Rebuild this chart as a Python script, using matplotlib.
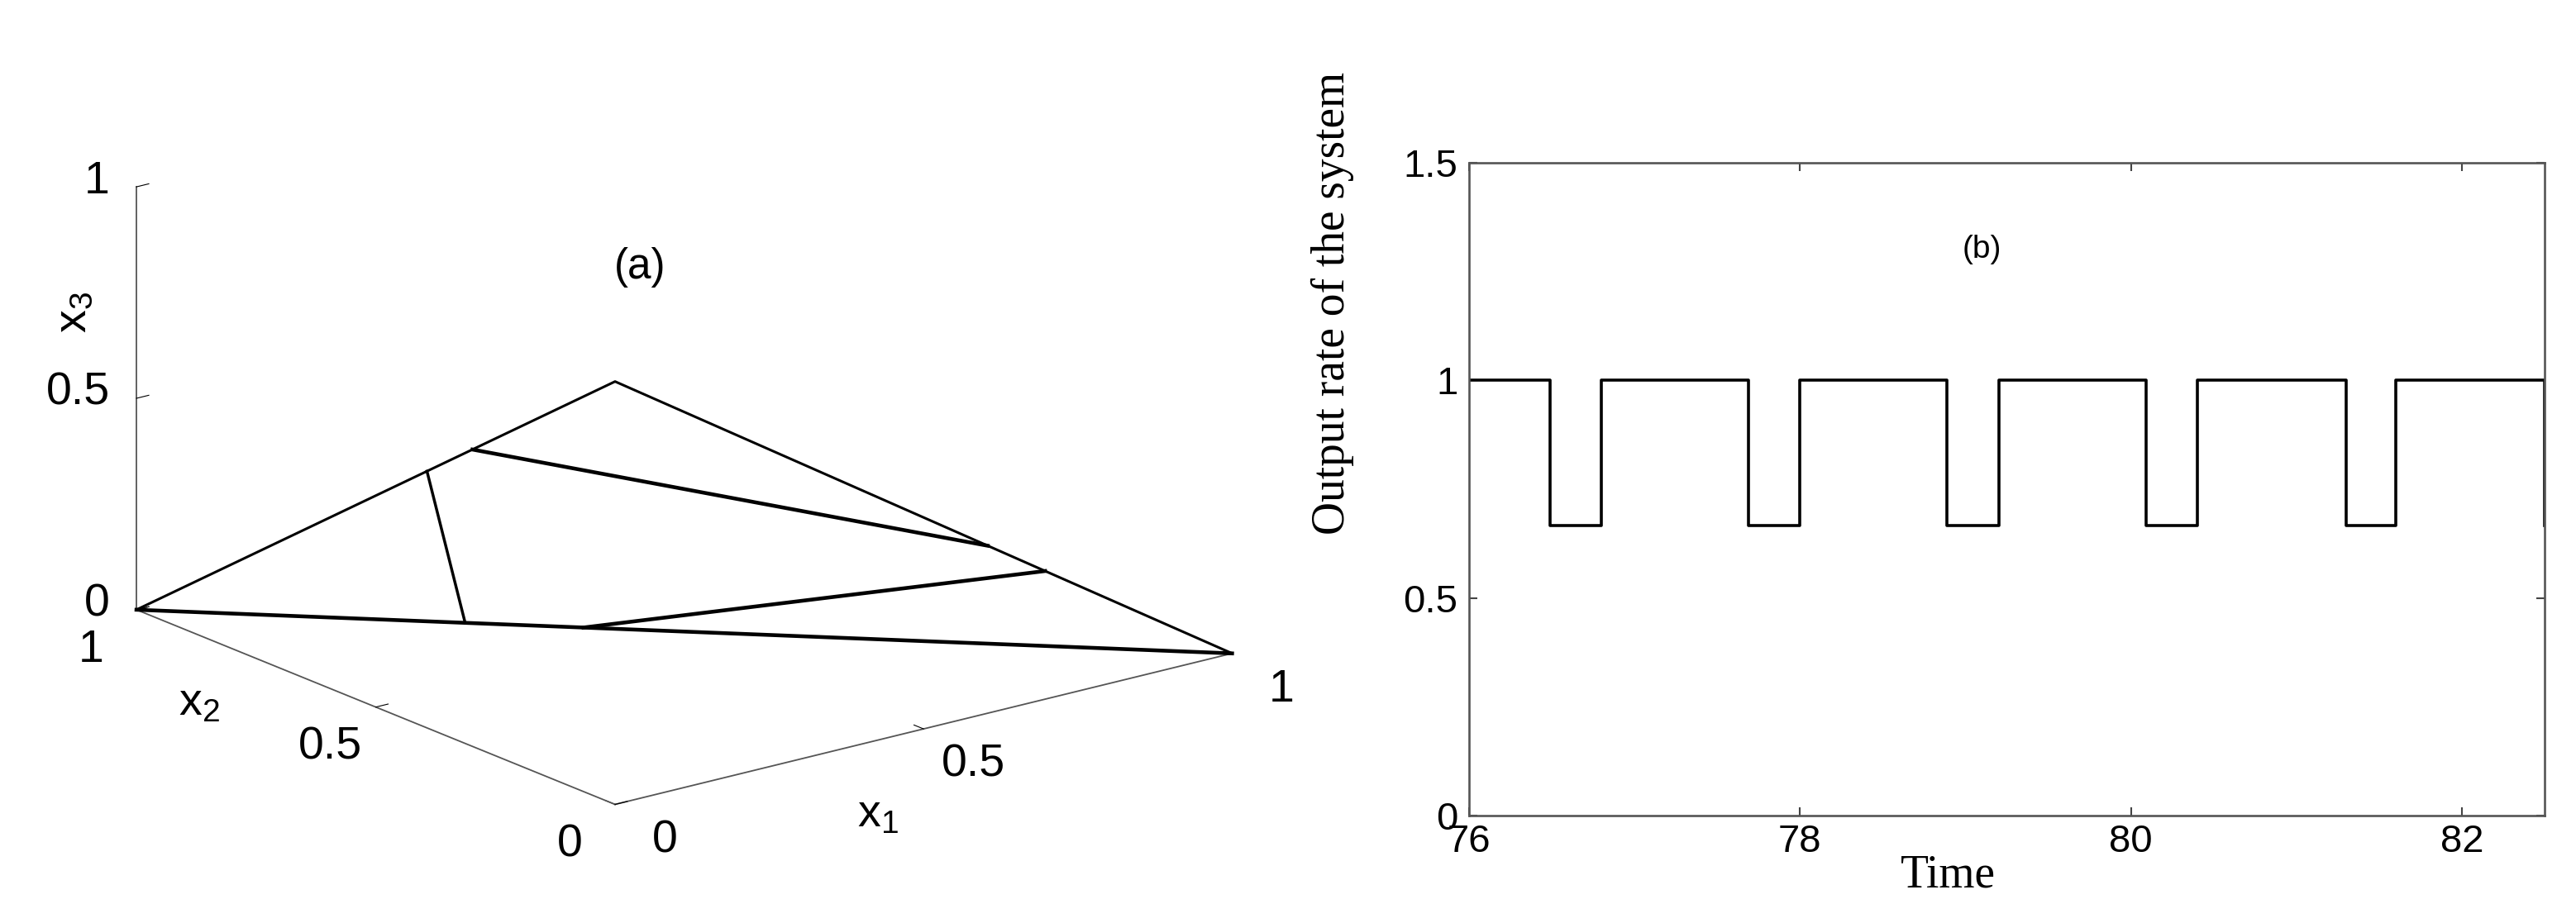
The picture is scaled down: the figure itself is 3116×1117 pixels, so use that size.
import matplotlib
matplotlib.use('Agg')
import matplotlib.pyplot as plt
from mpl_toolkits.mplot3d import proj3d

plt.rcParams['font.family'] = ['Liberation Sans', 'DejaVu Sans']

# ---- (b) output rate of the system ----
times = [76.0, 76.49, 76.80, 77.69, 78.00, 78.89, 79.20, 80.09, 80.40, 81.30, 81.60, 82.50]
rates = [1, 0.667, 1, 0.667, 1, 0.667, 1, 0.667, 1, 0.667, 1, 0.667]
time_ticks = [76, 78, 80, 82]
rate_ticks = [0, 0.5, 1, 1.5]
rate_labels = ['0', '0.5', '1', '1.5']

# ---- (a) simplex x1 + x2 + x3 = 1, points as (x1, x2, x3) ----
simplex_edge = [(1, 0, 0), (0, 0, 1), (0, 1, 0)]
bottom_edge = [(0, 1, 0), (1, 0, 0)]
traj_thin = [[(0.30, 0.70, 0.0), (0.0, 0.393, 0.607)]]
traj_thick = [
    [(0.0, 0.298, 0.702), (0.604, 0.0, 0.396)],
    [(0.408, 0.592, 0.0), (0.697, 0.0, 0.303)],
]
simplex_ticks = [0, 0.5, 1]
simplex_labels = ['0', '0.5', '1']

fig = plt.figure(figsize=(31.16, 11.17), dpi=100)

# left: 3d view of the simplex (matlab-like view)
ax3 = fig.add_axes([0.1010, 0.0856, 0.3206, 0.8943], projection='3d', proj_type='ortho')
ax3.view_init(elev=18.4, azim=-127.8)
ax3.set_box_aspect((1, 1, 0.571), zoom=1.4)
ax3.set_xlim(0, 1)
ax3.set_ylim(0, 1)
ax3.set_zlim(0, 1)
ax3.grid(False)

def unzip(pts):
    return [p[0] for p in pts], [p[1] for p in pts], [p[2] for p in pts]

x, y, z = unzip(simplex_edge)
ax3.plot(x, y, z, color='k', lw=2.2, clip_on=False)
x, y, z = unzip(bottom_edge)
ax3.plot(x, y, z, color='k', lw=3.3, clip_on=False)
for seg in traj_thin:
    x, y, z = unzip(seg)
    ax3.plot(x, y, z, color='k', lw=2.5, clip_on=False)
for seg in traj_thick:
    x, y, z = unzip(seg)
    ax3.plot(x, y, z, color='k', lw=3.3, clip_on=False)

for axis in (ax3.xaxis, ax3.yaxis, ax3.zaxis):
    axis.set_pane_color((1, 1, 1, 0))
    axis.pane.set_edgecolor((1, 1, 1, 0))
    axis.line.set_color('#555555')
    axis.line.set_linewidth(1.3)
    axis._axinfo['tick']['inward_factor'] = 0.0
    axis._axinfo['tick']['outward_factor'] = 0.25
    axis._axinfo['tick']['color'] = '#555555'
    axis.set_ticks(simplex_ticks)
    axis.set_tick_params(labelbottom=False)
    axis.label.set_visible(False)
    axis.offsetText.set_visible(False)

# texts: project the 3d anchor once and put a plain 2d text there
M = ax3.get_proj()

def label3d(px, py, pz, s, **kw):
    u, v, _ = proj3d.proj_transform(px, py, pz, M)
    ax3.text2D(u, v, s, transform=ax3.transData, **kw)

# tick labels placed like matlab does, beside each axis
tfs = 40
for t, lab in zip(simplex_ticks, simplex_labels):
    label3d(t - 0.04, -0.155, 0, lab, fontsize=tfs, ha='center', va='center')
    label3d(-0.12, t - 0.06, -0.025, lab, fontsize=tfs, ha='center', va='center')
    label3d(-0.043, 1, t + 0.028, lab, fontsize=tfs, ha='right', va='center')

label3d(0.24, -0.24, 0, r'$\mathregular{x_1}$', fontsize=tfs, ha='center', va='center')
label3d(-0.17, 0.65, 0, r'$\mathregular{x_2}$', fontsize=tfs, ha='center', va='center')
label3d(-0.10, 1, 0.74, r'$\mathregular{x_3}$', fontsize=tfs, ha='center', va='center',
        rotation=90)
label3d(0.04, 0, 1.255, '(a)', fontsize=37, ha='center', va='center')

# right: output rate step curve
ax = fig.add_axes([0.5703, 0.1164, 0.4175, 0.7073])
ax.step(times, rates, where='post', color='k', lw=2.6)
ax.set_xlim(76, 82.5)
ax.set_ylim(0, 1.5)
ax.set_xticks(time_ticks)
ax.set_yticks(rate_ticks)
ax.set_yticklabels(rate_labels)
ax.tick_params(direction='in', top=True, right=True, length=7, width=1.5,
               color='#444444', labelsize=34)
ax.tick_params(axis='y', pad=10)
ax.tick_params(axis='x', pad=7)
for s in ax.spines.values():
    s.set_color('#555555')
    s.set_linewidth(1.9)

ax.set_xlabel('Time', fontfamily='Liberation Serif', fontsize=40)
ax.xaxis.label.set_va('baseline')
ax.xaxis.set_label_coords(0.445, -0.109)
ax.set_ylabel('Output rate of the system', fontfamily='Liberation Serif', fontsize=40)
ax.yaxis.label.set_va('center')
ax.yaxis.set_label_coords(-0.127, 0.785)
ax.text(79.1, 1.3, '(b)', fontsize=28, ha='center', va='center')

fig.savefig('out.png', dpi=100)
